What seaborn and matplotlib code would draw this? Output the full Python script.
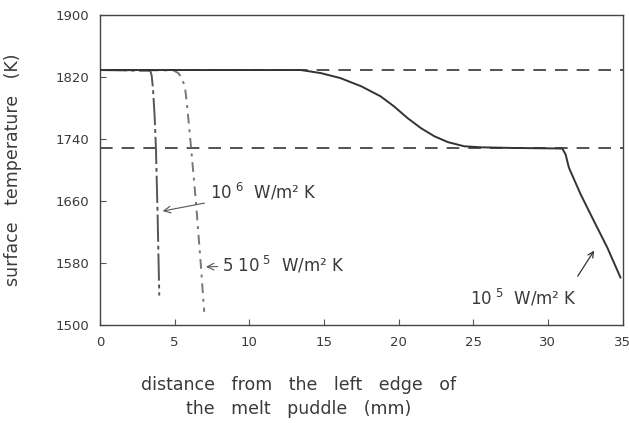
import matplotlib
matplotlib.use("Agg")
import matplotlib.pyplot as plt
import seaborn as sns
import pandas as pd

# ---- data ----
x_1e5 = [0, 13.45, 14.8, 16.1, 17.5, 18.8, 19.7, 20.6, 21.5, 22.4, 23.3, 24.4, 25.5, 27.5, 30.97,
         31.19, 31.41, 32.2, 33.09, 33.98, 34.87]
T_1e5 = [1829, 1829, 1825, 1818.6, 1808, 1795, 1782, 1767, 1754, 1743.5, 1736, 1730.6, 1729.3, 1728.5, 1727.7,
         1720, 1703, 1668.5, 1634, 1600, 1561]

x_1e6 = [0, 3.37, 3.46, 3.55, 3.66, 3.75, 3.86, 3.97]
T_1e6 = [1829, 1828, 1822, 1805, 1769, 1726, 1641, 1538]

x_5e5 = [0, 4.93, 5.25, 5.5, 5.7, 5.85, 6.09, 6.43, 6.76, 6.98]
T_5e5 = [1829, 1828.5, 1825, 1818, 1806, 1780, 1731, 1658, 1576, 1517]

ref_levels = [1829, 1729]
x_ticks = [0, 5, 10, 15, 20, 25, 30, 35]
y_ticks = [1500, 1580, 1660, 1740, 1820, 1900]

sns.set_style("ticks", {"xtick.direction": "in", "ytick.direction": "in"})
plt.rcParams["font.family"] = ["DejaVu Sans"]
plt.rcParams["mathtext.fontset"] = "dejavusans"
txt = "#3a3a3a"

fig = plt.figure(figsize=(6.29, 4.23), dpi=100)
ax = fig.add_axes([100/629, 1-325/423, (622.5-100)/629, (325-15)/423])

for lv in ref_levels:
    ax.axhline(lv, color="#444444", lw=1.3, ls=(0, (7, 5)), zorder=1)

df1 = pd.DataFrame({"x": x_1e5, "T": T_1e5})
df2 = pd.DataFrame({"x": x_1e6, "T": T_1e6})
df3 = pd.DataFrame({"x": x_5e5, "T": T_5e5})
sns.lineplot(data=df1, x="x", y="T", ax=ax, color="#333333", lw=1.4, sort=False, zorder=3)
sns.lineplot(data=df2, x="x", y="T", ax=ax, color="#555555", lw=1.4, sort=False, zorder=2,
             linestyle=(0, (14, 2, 2, 2)))
sns.lineplot(data=df3, x="x", y="T", ax=ax, color="#777777", lw=1.4, sort=False, zorder=2,
             linestyle=(0, (5, 3, 1.5, 3)))

ax.set_xlim(0, 35)
ax.set_ylim(1500, 1900)
ax.set_xticks(x_ticks)
ax.set_yticks(y_ticks)
ax.tick_params(labelsize=9.5, labelcolor=txt, length=4, width=0.8, color="#555555", pad=8)
for s in ax.spines.values():
    s.set_color("#444444")
    s.set_linewidth(1.0)

ax.set_xlabel("distance   from   the   left   edge   of\nthe   melt   puddle   (mm)", fontsize=12.5,
              color=txt, linespacing=1.4)
ax.xaxis.set_label_coords((299-100)/(622.5-100), -0.165)
ax.set_ylabel("surface   temperature   (K)", fontsize=12.5, color=txt)
ax.yaxis.set_label_coords(-0.15, 0.5)

ax.annotate(r"10$^{\ 6}$  W/m² K", xy=(4.2, 1647), xytext=(7.4, 1672),
            fontsize=12, color=txt, va="center", ha="left",
            arrowprops=dict(arrowstyle="->", color="#555555", lw=0.8, shrinkB=0, shrinkA=2))
ax.annotate(r"5 10$^{\ 5}$  W/m² K", xy=(7.1, 1575), xytext=(8.2, 1578),
            fontsize=12, color=txt, va="center", ha="left",
            arrowprops=dict(arrowstyle="->", color="#555555", lw=0.8, shrinkB=0, shrinkA=1))
ax.annotate("", xy=(33.1, 1596), xytext=(32.0, 1563),
            arrowprops=dict(arrowstyle="->", color="#333333", lw=0.9, shrinkA=0, shrinkB=0))
ax.text(24.8, 1535, r"10$^{\ 5}$  W/m² K", fontsize=12, color=txt, va="center", ha="left")

fig.savefig("out.png", dpi=100)
